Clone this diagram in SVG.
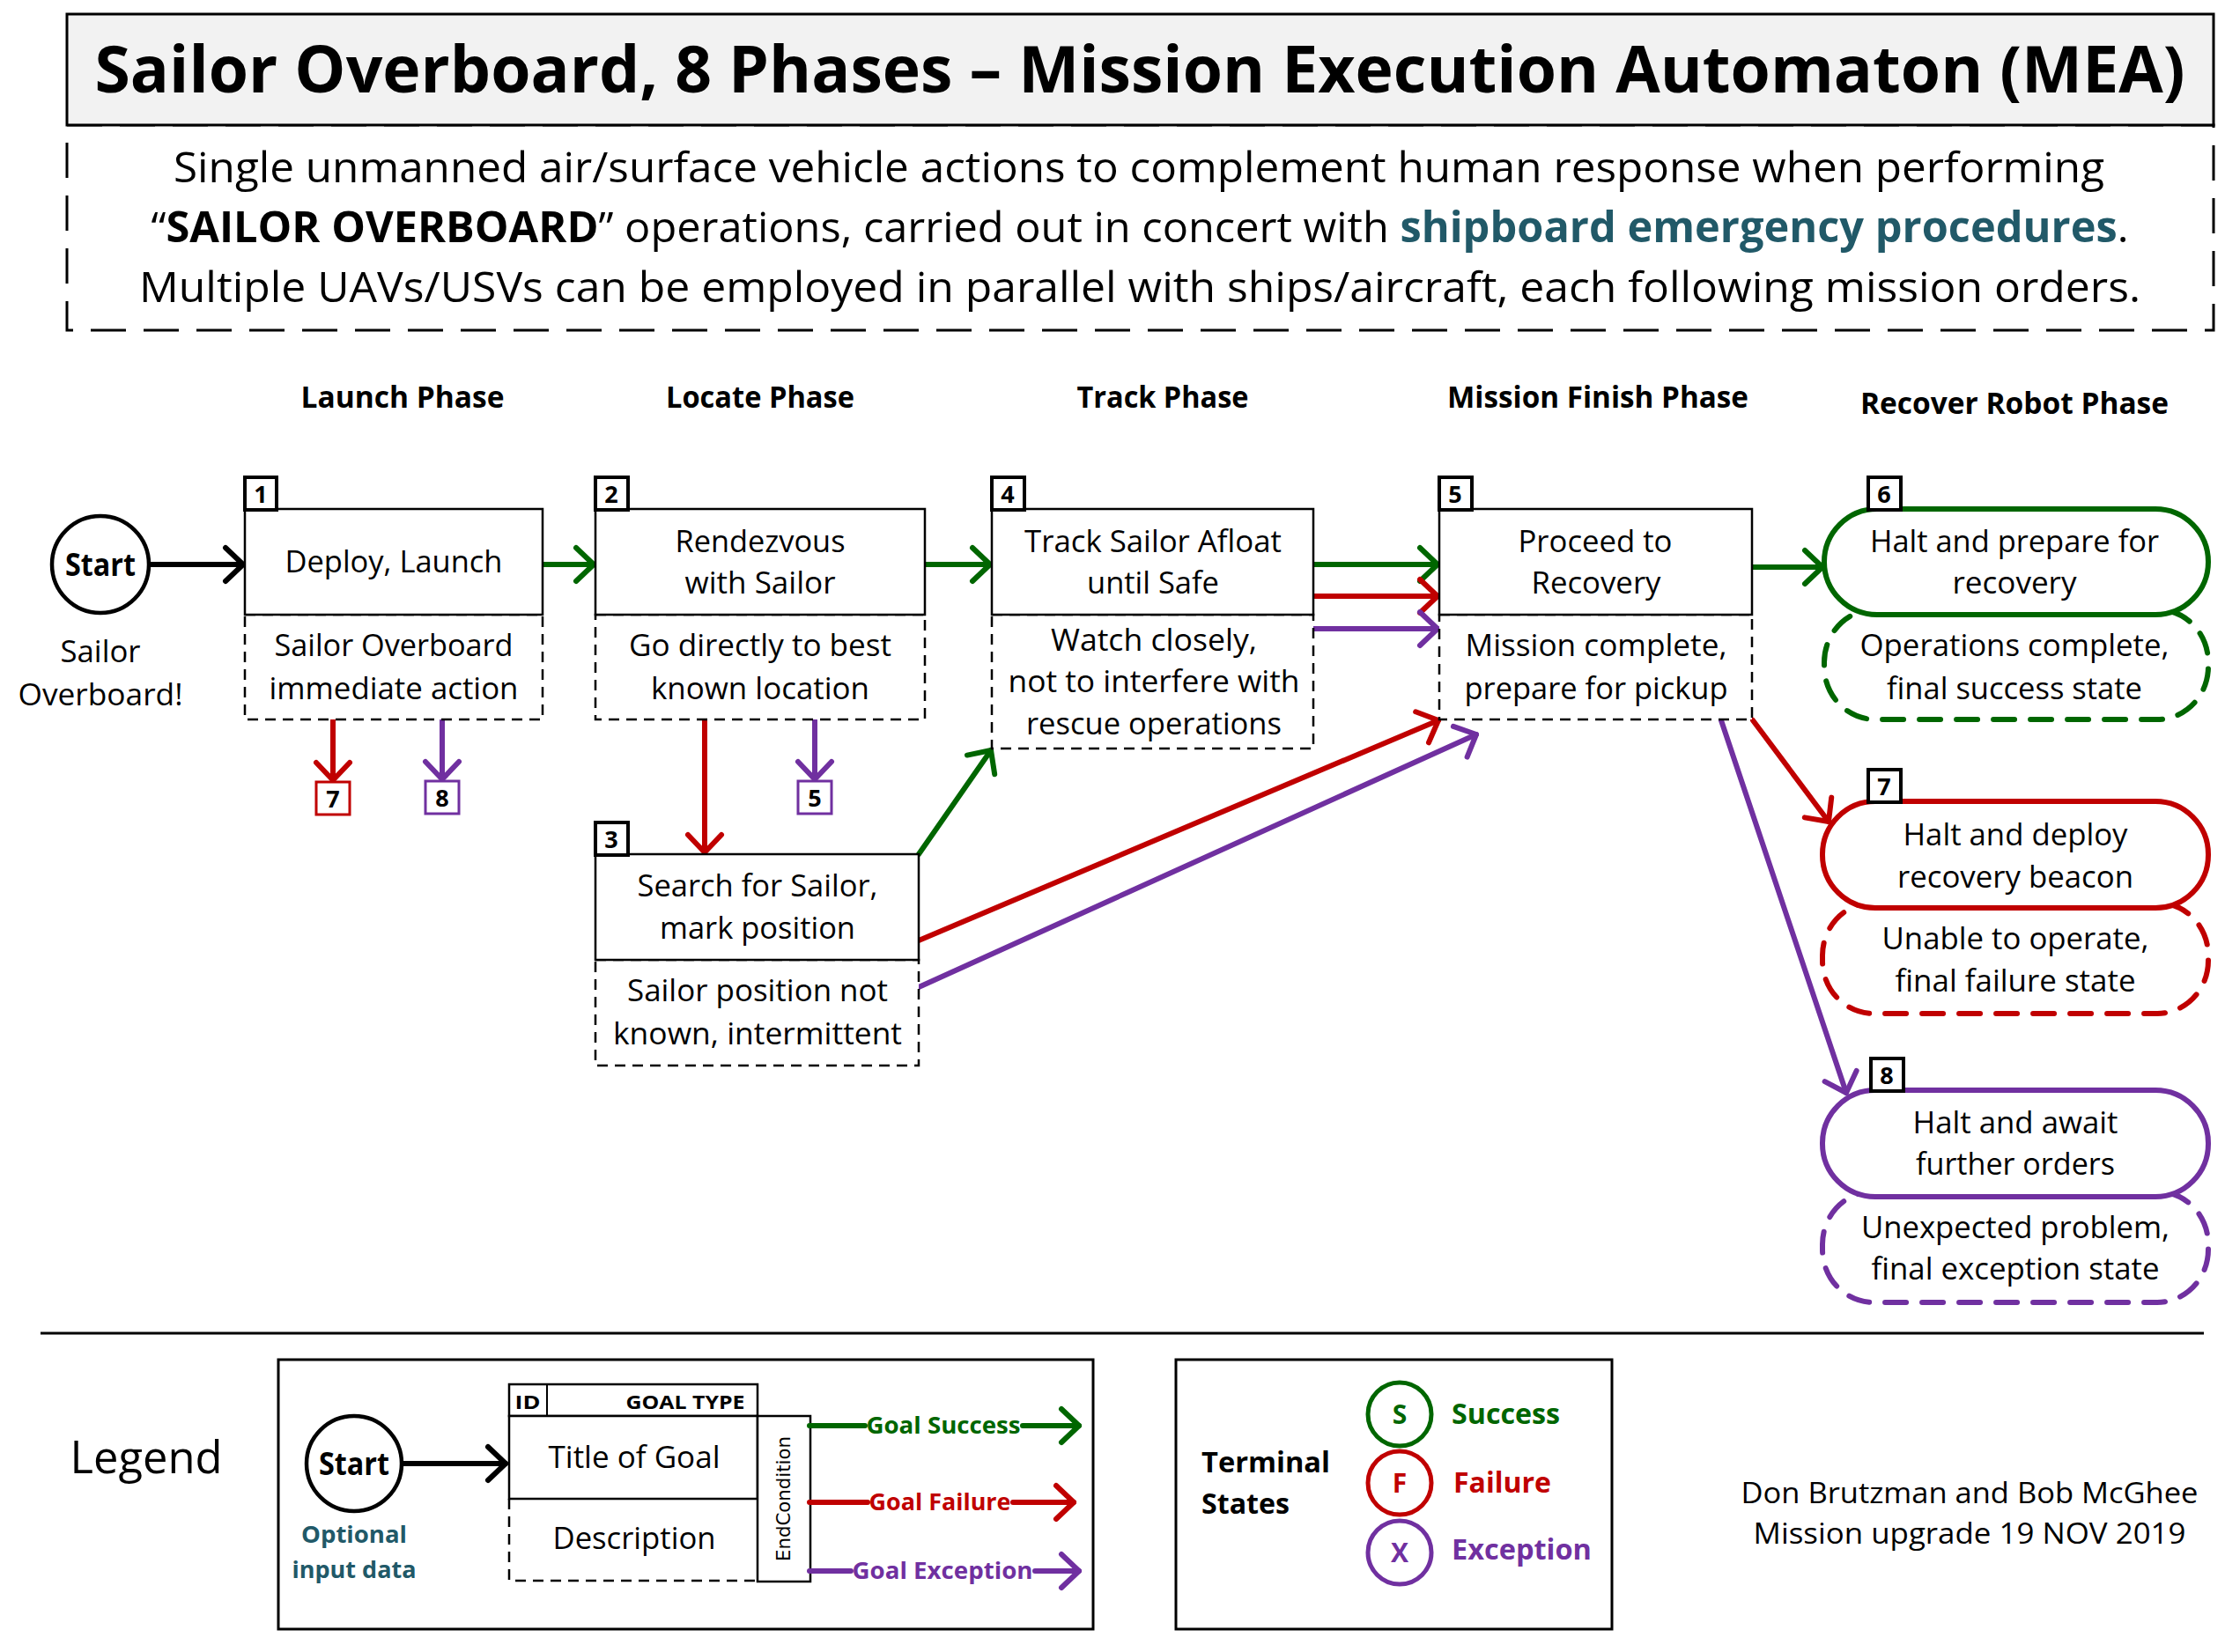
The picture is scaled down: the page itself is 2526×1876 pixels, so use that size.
<svg xmlns="http://www.w3.org/2000/svg" width="2526" height="1876" viewBox="0 0 2526 1876">
<defs>
<style>
text { font-family: "Open Sans", "Liberation Sans", sans-serif; fill: #000; }
.c { text-anchor: middle; }
.b { font-weight: bold; }
.ph { font-size: 34px; font-weight: bold; text-anchor: middle; }
.tx { font-size: 35px; text-anchor: middle; }
.box { fill: #fff; stroke: #000; stroke-width: 2.5; }
.dbox { fill: #fff; stroke: #000; stroke-width: 2.5; stroke-dasharray: 12 8; }
.badge { fill: #fff; stroke: #000; stroke-width: 4; }
.bn { font-size: 27px; font-weight: bold; text-anchor: middle; }
.ln { fill: none; stroke-width: 6; stroke-linecap: round; }
.k { stroke: #000; }
.g { stroke: #006600; }
.r { stroke: #C00000; }
.p { stroke: #7030A0; }
.tg { fill: #006600; }
.tr { fill: #C00000; }
.tp { fill: #7030A0; }
.teal { fill: #215968; }
.dash-end { stroke-width: 6; stroke-dasharray: 24 18; stroke-linecap: round; fill: #fff; }
</style>
<marker id="ak" markerUnits="userSpaceOnUse" markerWidth="40" markerHeight="50" refX="26" refY="25" orient="auto" overflow="visible"><path d="M6,6 L26,25 L6,44" fill="none" stroke="#000" stroke-width="6" stroke-linecap="round" stroke-linejoin="round"/></marker>
<marker id="ag" markerUnits="userSpaceOnUse" markerWidth="40" markerHeight="50" refX="26" refY="25" orient="auto" overflow="visible"><path d="M6,6 L26,25 L6,44" fill="none" stroke="#006600" stroke-width="6" stroke-linecap="round" stroke-linejoin="round"/></marker>
<marker id="ar" markerUnits="userSpaceOnUse" markerWidth="40" markerHeight="50" refX="26" refY="25" orient="auto" overflow="visible"><path d="M6,6 L26,25 L6,44" fill="none" stroke="#C00000" stroke-width="6" stroke-linecap="round" stroke-linejoin="round"/></marker>
<marker id="ap" markerUnits="userSpaceOnUse" markerWidth="40" markerHeight="50" refX="26" refY="25" orient="auto" overflow="visible"><path d="M6,6 L26,25 L6,44" fill="none" stroke="#7030A0" stroke-width="6" stroke-linecap="round" stroke-linejoin="round"/></marker>
</defs>
<rect width="2526" height="1876" fill="#fff"/>

<g id="header">
<rect x="76" y="142" width="2437" height="233" fill="#fff" stroke="#000" stroke-width="3" stroke-dasharray="40 20"/>
<rect x="76" y="16" width="2437" height="126" fill="#f2f2f2" stroke="#000" stroke-width="3"/>
<text x="1294" y="105" class="c b" font-size="74" textLength="2373" lengthAdjust="spacingAndGlyphs">Sailor Overboard, 8 Phases – Mission Execution Automaton (MEA)</text>
<text x="1293" y="207" class="c" font-size="48" textLength="2192" lengthAdjust="spacingAndGlyphs">Single unmanned air/surface vehicle actions to complement human response when performing</text>
<text x="1294" y="275" class="c" font-size="48" textLength="2245" lengthAdjust="spacingAndGlyphs">“<tspan class="b">SAILOR OVERBOARD</tspan>” operations, carried out in concert with <tspan class="b teal">shipboard emergency procedures</tspan>.</text>
<text x="1294" y="343" class="c" font-size="48" textLength="2272" lengthAdjust="spacingAndGlyphs">Multiple UAVs/USVs can be employed in parallel with ships/aircraft, each following mission orders.</text>
</g>

<g id="phases">
<text x="457" y="463" class="ph" textLength="231" lengthAdjust="spacingAndGlyphs">Launch  Phase</text>
<text x="863" y="463" class="ph" textLength="214" lengthAdjust="spacingAndGlyphs">Locate Phase</text>
<text x="1320" y="463" class="ph" textLength="195" lengthAdjust="spacingAndGlyphs">Track Phase</text>
<text x="1814" y="463" class="ph" textLength="342" lengthAdjust="spacingAndGlyphs">Mission Finish Phase</text>
<text x="2287" y="470" class="ph" textLength="350" lengthAdjust="spacingAndGlyphs">Recover Robot Phase</text>
</g>

<g id="connectors">
<path class="ln k" d="M170,641 L276,641" marker-end="url(#ak)"/>
<path class="ln g" d="M616,641 L674,641" marker-end="url(#ag)"/>
<path class="ln g" d="M1050,641 L1124,641" marker-end="url(#ag)"/>
<path class="ln g" d="M1491,641 L1632,641" marker-end="url(#ag)"/>
<path class="ln r" d="M1491,677 L1632,677" marker-end="url(#ar)"/>
<path class="ln p" d="M1491,714 L1632,714" marker-end="url(#ap)"/>
<path class="ln g" d="M1989,644 L2069,644" marker-end="url(#ag)"/>
<path class="ln r" d="M378,818 L378,886" marker-end="url(#ar)"/>
<path class="ln p" d="M502,818 L502,885" marker-end="url(#ap)"/>
<path class="ln r" d="M800,818 L800,968" marker-end="url(#ar)"/>
<path class="ln p" d="M925,818 L925,885" marker-end="url(#ap)"/>
<path class="ln g" d="M1043,970 L1125,852" marker-end="url(#ag)"/>
<path class="ln r" d="M1043,1068 L1633,818" marker-end="url(#ar)"/>
<path class="ln p" d="M1043,1121 L1676,834" marker-end="url(#ap)"/>
<path class="ln r" d="M1990,818 L2076,933" marker-end="url(#ar)"/>
<path class="ln p" d="M1954,818 L2096,1241" marker-end="url(#ap)"/>
</g>

<g id="start">
<circle cx="114" cy="641" r="55" fill="#fff" stroke="#000" stroke-width="4.5"/>
<text x="114" y="654" class="c b" font-size="36" textLength="80" lengthAdjust="spacingAndGlyphs">Start</text>
<text x="114" y="752" class="tx" textLength="91" lengthAdjust="spacingAndGlyphs">Sailor</text>
<text x="114" y="801" class="tx" textLength="187" lengthAdjust="spacingAndGlyphs">Overboard!</text>
</g>

<g id="node1">
<rect class="dbox" x="278" y="698" width="338" height="119"/>
<rect class="box" x="278" y="578" width="338" height="120"/>
<rect class="badge" x="278" y="542" width="36" height="37"/>
<text x="296" y="571" class="bn">1</text>
<text x="447" y="650" class="tx" textLength="247" lengthAdjust="spacingAndGlyphs">Deploy, Launch</text>
<text x="447" y="745" class="tx" textLength="271" lengthAdjust="spacingAndGlyphs">Sailor Overboard</text>
<text x="447" y="794" class="tx" textLength="283" lengthAdjust="spacingAndGlyphs">immediate action</text>
</g>

<g id="node2">
<rect class="dbox" x="676" y="698" width="374" height="119"/>
<rect class="box" x="676" y="578" width="374" height="120"/>
<rect class="badge" x="676" y="542" width="37" height="37"/>
<text x="694" y="571" class="bn">2</text>
<text x="863" y="627" class="tx" textLength="193" lengthAdjust="spacingAndGlyphs">Rendezvous</text>
<text x="863" y="674" class="tx" textLength="171" lengthAdjust="spacingAndGlyphs">with Sailor</text>
<text x="863" y="745" class="tx" textLength="298" lengthAdjust="spacingAndGlyphs">Go directly to best</text>
<text x="863" y="794" class="tx" textLength="248" lengthAdjust="spacingAndGlyphs">known location</text>
</g>

<g id="node3">
<rect class="dbox" x="676" y="1090" width="367" height="120"/>
<rect class="box" x="676" y="970" width="367" height="120"/>
<rect class="badge" x="676" y="934" width="37" height="37"/>
<text x="694" y="963" class="bn">3</text>
<text x="860" y="1018" class="tx" textLength="273" lengthAdjust="spacingAndGlyphs">Search for Sailor,</text>
<text x="860" y="1066" class="tx" textLength="222" lengthAdjust="spacingAndGlyphs">mark position</text>
<text x="860" y="1137" class="tx" textLength="296" lengthAdjust="spacingAndGlyphs">Sailor position not</text>
<text x="860" y="1186" class="tx" textLength="328" lengthAdjust="spacingAndGlyphs">known, intermittent</text>
</g>

<g id="node4">
<rect class="dbox" x="1126" y="698" width="365" height="152"/>
<rect class="box" x="1126" y="578" width="365" height="120"/>
<rect class="badge" x="1126" y="542" width="37" height="37"/>
<text x="1144" y="571" class="bn">4</text>
<text x="1309" y="627" class="tx" textLength="292" lengthAdjust="spacingAndGlyphs">Track Sailor Afloat</text>
<text x="1309" y="674" class="tx" textLength="150" lengthAdjust="spacingAndGlyphs">until Safe</text>
<text x="1310" y="739" class="tx" textLength="234" lengthAdjust="spacingAndGlyphs">Watch closely,</text>
<text x="1310" y="786" class="tx" textLength="331" lengthAdjust="spacingAndGlyphs">not to interfere with</text>
<text x="1310" y="834" class="tx" textLength="290" lengthAdjust="spacingAndGlyphs">rescue operations</text>
</g>

<g id="node5">
<rect class="dbox" x="1634" y="698" width="355" height="119"/>
<rect class="box" x="1634" y="578" width="355" height="120"/>
<rect class="badge" x="1634" y="542" width="37" height="37"/>
<text x="1652" y="571" class="bn">5</text>
<text x="1811" y="627" class="tx" textLength="175" lengthAdjust="spacingAndGlyphs">Proceed to</text>
<text x="1812" y="674" class="tx" textLength="147" lengthAdjust="spacingAndGlyphs">Recovery</text>
<text x="1812" y="745" class="tx" textLength="297" lengthAdjust="spacingAndGlyphs">Mission complete,</text>
<text x="1812" y="794" class="tx" textLength="299" lengthAdjust="spacingAndGlyphs">prepare for pickup</text>
</g>

<g id="node6">
<rect class="dash-end" x="2071" y="692" width="436" height="125" rx="58" ry="60" stroke="#006600"/>
<rect x="2071" y="578" width="436" height="120" rx="60" ry="60" fill="#fff" stroke="#006600" stroke-width="6"/>
<rect class="badge" x="2121" y="542" width="37" height="37"/>
<text x="2139" y="571" class="bn">6</text>
<text x="2287" y="627" class="tx" textLength="328" lengthAdjust="spacingAndGlyphs">Halt and prepare for</text>
<text x="2287" y="674" class="tx" textLength="141" lengthAdjust="spacingAndGlyphs">recovery</text>
<text x="2287" y="745" class="tx" textLength="351" lengthAdjust="spacingAndGlyphs">Operations complete,</text>
<text x="2287" y="794" class="tx" textLength="290" lengthAdjust="spacingAndGlyphs">final success state</text>
</g>

<g id="node7">
<rect class="dash-end" x="2069" y="1025" width="438" height="126" rx="58" ry="60" stroke="#C00000"/>
<rect x="2069" y="910" width="438" height="121" rx="60" ry="60" fill="#fff" stroke="#C00000" stroke-width="6"/>
<rect class="badge" x="2121" y="874" width="37" height="37"/>
<text x="2139" y="903" class="bn">7</text>
<text x="2288" y="960" class="tx" textLength="255" lengthAdjust="spacingAndGlyphs">Halt and deploy</text>
<text x="2288" y="1008" class="tx" textLength="268" lengthAdjust="spacingAndGlyphs">recovery beacon</text>
<text x="2288" y="1078" class="tx" textLength="303" lengthAdjust="spacingAndGlyphs">Unable to operate,</text>
<text x="2288" y="1126" class="tx" textLength="273" lengthAdjust="spacingAndGlyphs">final failure state</text>
</g>

<g id="node8">
<rect class="dash-end" x="2069" y="1353" width="438" height="126" rx="58" ry="60" stroke="#7030A0"/>
<rect x="2069" y="1238" width="438" height="121" rx="60" ry="60" fill="#fff" stroke="#7030A0" stroke-width="6"/>
<rect class="badge" x="2124" y="1202" width="37" height="37"/>
<text x="2142" y="1231" class="bn">8</text>
<text x="2288" y="1287" class="tx" textLength="233" lengthAdjust="spacingAndGlyphs">Halt and await</text>
<text x="2288" y="1334" class="tx" textLength="226" lengthAdjust="spacingAndGlyphs">further orders</text>
<text x="2288" y="1406" class="tx" textLength="350" lengthAdjust="spacingAndGlyphs">Unexpected problem,</text>
<text x="2288" y="1453" class="tx" textLength="327" lengthAdjust="spacingAndGlyphs">final exception state</text>
</g>

<g id="ref7">
<rect x="359" y="888" width="38" height="37" fill="#fff" stroke="#C00000" stroke-width="3"/>
<text x="378" y="917" class="bn">7</text>
</g>
<g id="ref8">
<rect x="483" y="887" width="38" height="37" fill="#fff" stroke="#7030A0" stroke-width="3"/>
<text x="502" y="916" class="bn">8</text>
</g>
<g id="ref5">
<rect x="906" y="887" width="38" height="37" fill="#fff" stroke="#7030A0" stroke-width="3"/>
<text x="925" y="916" class="bn">5</text>
</g>

<g id="legend">
<line x1="46" y1="1514" x2="2502" y2="1514" stroke="#000" stroke-width="3"/>
<text x="166" y="1673" class="c" font-size="52" textLength="173" lengthAdjust="spacingAndGlyphs">Legend</text>
<rect x="316" y="1544" width="925" height="306" fill="#fff" stroke="#000" stroke-width="3"/>
<circle cx="402" cy="1662" r="54" fill="#fff" stroke="#000" stroke-width="4.5"/>
<text x="402" y="1675" class="c b" font-size="36" textLength="80" lengthAdjust="spacingAndGlyphs">Start</text>
<path class="ln k" d="M457,1662 L574,1662" marker-end="url(#ak)"/>
<text x="402" y="1752" class="c b teal" font-size="27" textLength="120" lengthAdjust="spacingAndGlyphs">Optional</text>
<text x="402" y="1792" class="c b teal" font-size="27" textLength="141" lengthAdjust="spacingAndGlyphs">input data</text>
<path d="M578,1702 L578,1795 L860,1795" fill="none" stroke="#000" stroke-width="2.5" stroke-dasharray="12 8"/>
<rect x="578" y="1572" width="282" height="36" fill="#fff" stroke="#000" stroke-width="2.5"/>
<line x1="621" y1="1572" x2="621" y2="1608" stroke="#000" stroke-width="2"/>
<text x="599" y="1600" class="c b" font-size="22" textLength="29" lengthAdjust="spacingAndGlyphs">ID</text>
<text x="778" y="1600" class="c b" font-size="22" textLength="135" lengthAdjust="spacingAndGlyphs">GOAL TYPE</text>
<rect x="578" y="1608" width="282" height="94" fill="#fff" stroke="#000" stroke-width="2.5"/>
<text x="720" y="1667" class="tx" textLength="195" lengthAdjust="spacingAndGlyphs">Title of Goal</text>
<text x="720" y="1759" class="tx" textLength="185" lengthAdjust="spacingAndGlyphs">Description</text>
<rect x="860" y="1608" width="60" height="188" fill="#fff" stroke="#000" stroke-width="2.5"/>
<text x="897" y="1702" transform="rotate(-90 897 1702)" text-anchor="middle" font-size="21" style="font-family:'DejaVu Sans',sans-serif" textLength="142" lengthAdjust="spacingAndGlyphs">EndCondition</text>
<path class="ln g" d="M919,1619 L982,1619"/>
<path class="ln g" d="M1161,1619 L1225,1619" marker-end="url(#ag)"/>
<text x="1071" y="1628" class="c b tg" font-size="27" textLength="175" lengthAdjust="spacingAndGlyphs">Goal Success</text>
<path class="ln r" d="M919,1706 L985,1706"/>
<path class="ln r" d="M1150,1706 L1219,1706" marker-end="url(#ar)"/>
<text x="1067" y="1715" class="c b tr" font-size="27" textLength="161" lengthAdjust="spacingAndGlyphs">Goal Failure</text>
<path class="ln p" d="M919,1784 L966,1784"/>
<path class="ln p" d="M1175,1784 L1225,1784" marker-end="url(#ap)"/>
<text x="1070" y="1793" class="c b tp" font-size="27" textLength="205" lengthAdjust="spacingAndGlyphs">Goal Exception</text>
</g>

<g id="terminal-states">
<rect x="1335" y="1544" width="495" height="306" fill="#fff" stroke="#000" stroke-width="3"/>
<text x="1364" y="1672" class="b" font-size="33" textLength="146" lengthAdjust="spacingAndGlyphs">Terminal</text>
<text x="1364" y="1719" class="b" font-size="33" textLength="100" lengthAdjust="spacingAndGlyphs">States</text>
<circle cx="1589" cy="1606" r="36" fill="#fff" stroke="#006600" stroke-width="5"/>
<text x="1589" y="1617" class="c b tg" font-size="30">S</text>
<circle cx="1589" cy="1684" r="36" fill="#fff" stroke="#C00000" stroke-width="5"/>
<text x="1589" y="1695" class="c b tr" font-size="30">F</text>
<circle cx="1589" cy="1763" r="36" fill="#fff" stroke="#7030A0" stroke-width="5"/>
<text x="1589" y="1774" class="c b tp" font-size="30">X</text>
<text x="1648" y="1617" class="b tg" font-size="33" textLength="123" lengthAdjust="spacingAndGlyphs">Success</text>
<text x="1650" y="1695" class="b tr" font-size="33" textLength="111" lengthAdjust="spacingAndGlyphs">Failure</text>
<text x="1648" y="1771" class="b tp" font-size="33" textLength="159" lengthAdjust="spacingAndGlyphs">Exception</text>
</g>

<g id="credits">
<text x="2236" y="1707" class="c" font-size="33" textLength="519" lengthAdjust="spacingAndGlyphs">Don Brutzman and Bob McGhee</text>
<text x="2236" y="1753" class="c" font-size="33" textLength="491" lengthAdjust="spacingAndGlyphs">Mission upgrade 19 NOV 2019</text>
</g>
</svg>
